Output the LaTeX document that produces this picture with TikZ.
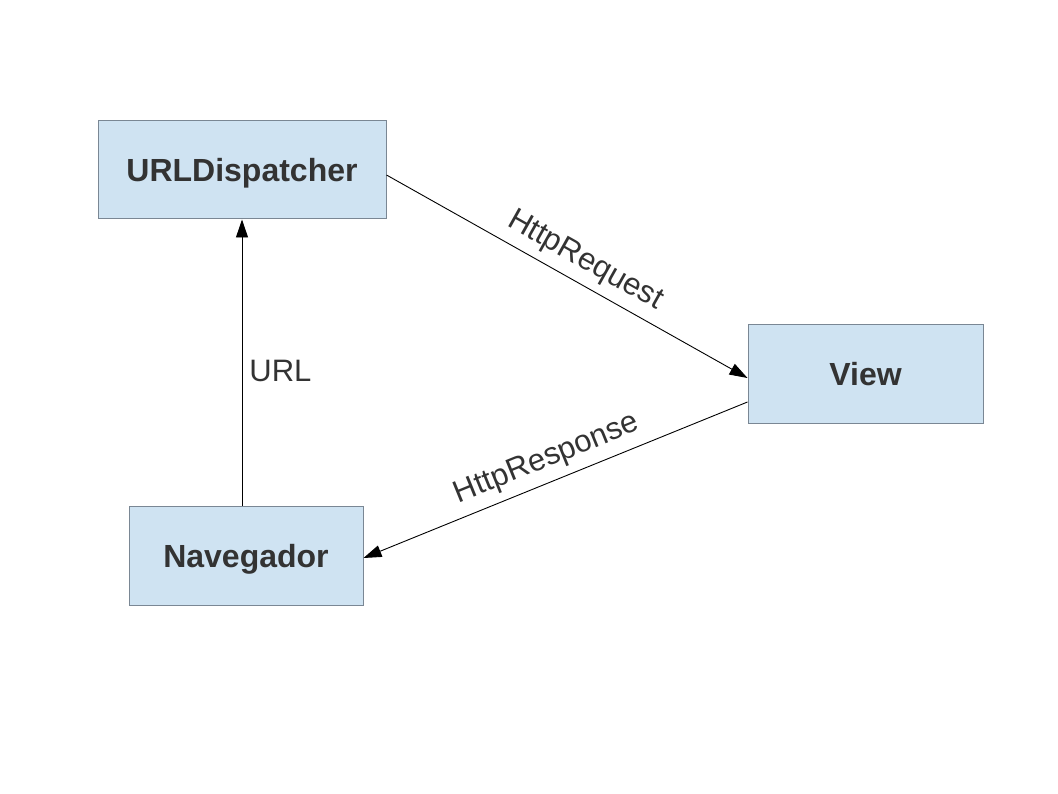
\documentclass[tikz,border=0pt]{standalone}
\usepackage{fontspec}
\setmainfont{Liberation Sans}
\usetikzlibrary{arrows.meta}
\definecolor{boxfill}{HTML}{CFE3F2}
\definecolor{boxline}{HTML}{7A8794}
\definecolor{txt}{HTML}{333333}
\tikzset{
  box/.style={draw=boxline, line width=1pt, fill=boxfill, text=txt, inner sep=0pt,
    text depth=0pt, font=\fontsize{32}{38}\selectfont\bfseries},
  conn/.style={draw=black, line width=0.9pt, -{Triangle[length=18pt,width=12pt]}},
  lbl/.style={text=txt, font=\fontsize{31}{37}\selectfont, inner sep=2pt}
}
\begin{document}
\begin{tikzpicture}[x=1pt,y=-1pt]
\useasboundingbox (0,0) rectangle (1058,794);
\node[box, minimum width=288pt, minimum height=98pt] (disp) at (242,170) {URLDispatcher};
\node[box, minimum width=235pt, minimum height=98pt] (view) at (865.5,374) {View};
\node[box, minimum width=234pt, minimum height=99pt] (nav) at (246,555.5) {Navegador};
\draw[conn] ([xshift=-4pt]nav.north) -- node[lbl, right, pos=0.47, xshift=5pt] {URL} (disp.south);
\draw[conn] ([yshift=-5pt]disp.east) -- node[lbl, sloped, above, pos=0.52, yshift=6pt] {HttpRequest} ([yshift=-4pt]view.west);
\draw[conn] ([yshift=-28pt]view.west) -- node[lbl, sloped, above, pos=0.5, yshift=6pt] {HttpResponse} ([yshift=-2.5pt]nav.east);
\end{tikzpicture}
\end{document}
